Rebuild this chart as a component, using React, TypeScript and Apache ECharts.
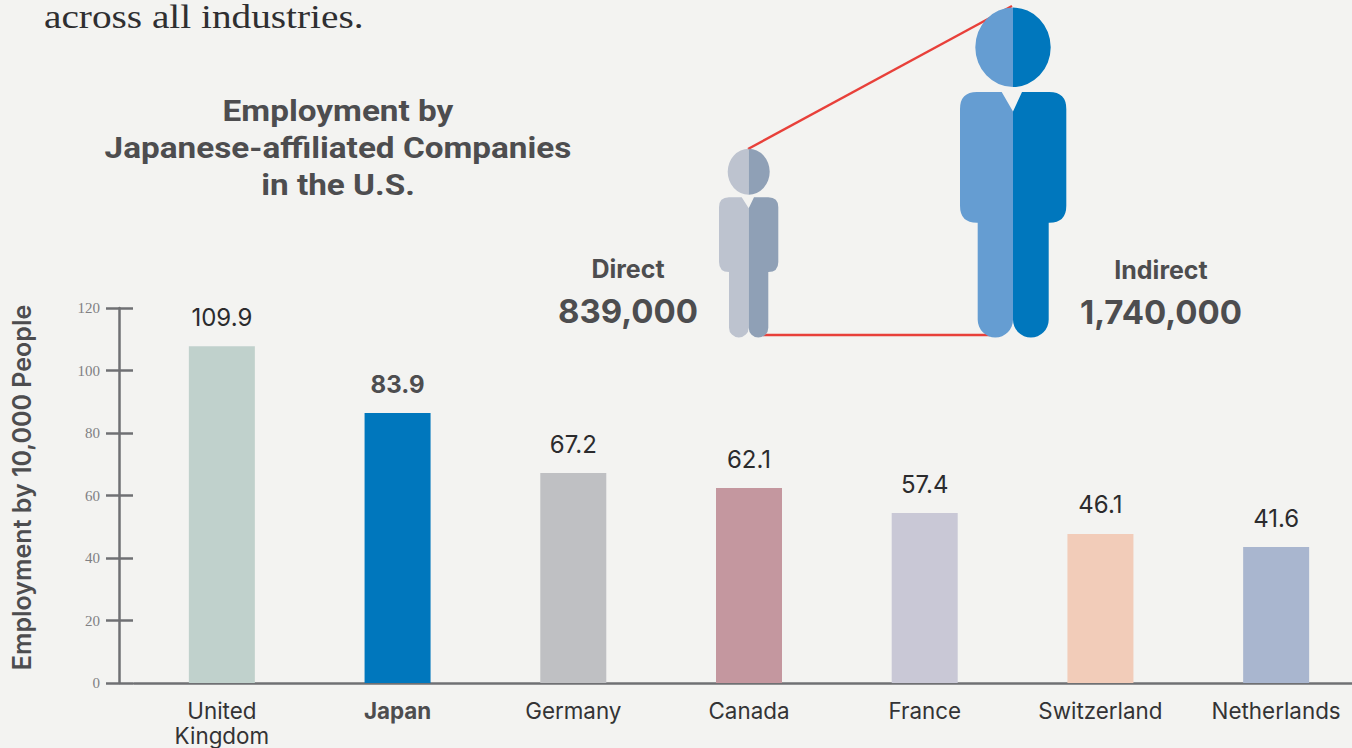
import React, { useEffect, useRef } from "react";
import * as echarts from "echarts";

const countries = ["United\nKingdom", "Japan", "Germany", "Canada", "France", "Switzerland", "Netherlands"];
const barHeights = [107.8, 86.4, 67.2, 62.4, 54.4, 47.7, 43.5];
const printedValues = ["109.9", "83.9", "67.2", "62.1", "57.4", "46.1", "41.6"];
const barColors = ["#c0d1cc", "#0077bd", "#bfc0c3", "#c4979f", "#c9c8d6", "#f2ccb9", "#a9b6cf"];
const titleLines = ["Employment by", "Japanese-affiliated Companies", "in the U.S."];

const INK = "#4d4d4f";
const AXIS = "#6f7073";
const SANS = "Inter, Roboto, sans-serif";
const TITLE_FONT = "Roboto, Inter, sans-serif";

type P = { cx: number; hy: number; rx: number; ry: number; top: number; l: number; r: number; sb: number; cr: number; ll: number; lr: number; bot: number; vl: number; vy: number; vr: number };

const big: P = { cx: 1013, hy: 47.3, rx: 37.7, ry: 39.7, top: 92, l: 960, r: 1066.3, sb: 222.7, cr: 17, ll: 977.7, lr: 1048.7, bot: 337.5, vl: 1001.7, vy: 111.5, vr: 1022 };
const small: P = { cx: 748.7, hy: 171.7, rx: 21, ry: 23, top: 197.3, l: 719, r: 778.3, sb: 272, cr: 10, ll: 729, lr: 768.3, bot: 337.5, vl: 741.7, vy: 208.3, vr: 754 };

function leftHalf(p: P) {
  const lr = (p.cx - p.ll) / 2;
  return `M${p.cx} ${p.hy - p.ry}A${p.rx} ${p.ry} 0 0 0 ${p.cx} ${p.hy + p.ry}Z` +
    `M${p.vl} ${p.top}L${p.l + p.cr} ${p.top}Q${p.l} ${p.top} ${p.l} ${p.top + p.cr}L${p.l} ${p.sb - p.cr}Q${p.l} ${p.sb} ${p.l + p.cr} ${p.sb}L${p.ll} ${p.sb}L${p.ll} ${p.bot - lr}A${lr} ${lr} 0 0 0 ${p.cx} ${p.bot - lr}L${p.cx} ${p.vy}L${p.vl} ${p.top}Z`;
}
function rightHalf(p: P) {
  const lr = (p.lr - p.cx) / 2;
  return `M${p.cx} ${p.hy - p.ry}A${p.rx} ${p.ry} 0 0 1 ${p.cx} ${p.hy + p.ry}Z` +
    `M${p.vr} ${p.top}L${p.r - p.cr} ${p.top}Q${p.r} ${p.top} ${p.r} ${p.top + p.cr}L${p.r} ${p.sb - p.cr}Q${p.r} ${p.sb} ${p.r - p.cr} ${p.sb}L${p.lr} ${p.sb}L${p.lr} ${p.bot - lr}A${lr} ${lr} 0 0 1 ${p.cx} ${p.bot - lr}L${p.cx} ${p.vy}L${p.vr} ${p.top}Z`;
}

echarts.graphic.registerShape("bigLeft", echarts.graphic.extendPath(leftHalf(big) as any, {}));
echarts.graphic.registerShape("bigRight", echarts.graphic.extendPath(rightHalf(big) as any, {}));
echarts.graphic.registerShape("smallLeft", echarts.graphic.extendPath(leftHalf(small) as any, {}));
echarts.graphic.registerShape("smallRight", echarts.graphic.extendPath(rightHalf(small) as any, {}));

function txt(text: string, x: number, y: number, size: number, scaleX = 1, align = "center", weight: any = 700, font = SANS, fill = INK) {
  return { type: "text", x, y, scaleX, silent: true, style: { text, fontSize: size, fontWeight: weight, fontFamily: font, fill, textAlign: align, textVerticalAlign: "middle" } };
}

export default function App() {
  const ref = useRef<HTMLDivElement>(null);
  useEffect(() => {
    document.body.style.margin = "0";
    const chart = echarts.init(ref.current!, undefined, { renderer: "svg" });
    chart.setOption({
      animation: false,
      backgroundColor: "#f3f3f1",
      grid: { left: 134, top: 308, width: 1230, height: 375, outerBoundsMode: "none" },
      xAxis: {
        type: "category",
        data: countries.map((c) => ({ value: c, textStyle: c === "Japan" ? { fontWeight: 700, color: INK } : {} })),
        axisLine: { show: true, onZero: false, lineStyle: { color: AXIS, width: 2.5 } },
        axisTick: { show: false },
        axisLabel: { interval: 0, fontFamily: SANS, fontSize: 22.4, lineHeight: 25, color: "#333335", margin: 15 },
      },
      yAxis: [
        {
          type: "value", position: "left", min: 0, max: 120, interval: 20, offset: 15,
          name: "Employment by 10,000 People", nameLocation: "middle", nameGap: 85,
          nameTextStyle: { fontFamily: SANS, fontSize: 25, fontWeight: 600, color: INK, padding: [0, 0, 0, 16] },
          splitLine: { show: false },
          axisLine: { show: true, lineStyle: { color: AXIS, width: 2.5 } },
          axisTick: { show: true, length: 13, lineStyle: { color: AXIS, width: 2.5 } },
          axisLabel: { fontFamily: "'Liberation Serif', serif", fontSize: 15, color: "#808083", margin: 19 },
        },
        {
          type: "value", position: "left", min: 0, max: 120, interval: 20, offset: 15,
          splitLine: { show: false },
          axisLine: { show: false },
          axisTick: { show: true, inside: true, length: 14, lineStyle: { color: AXIS, width: 2.5 } },
          axisLabel: { show: false },
        },
      ],
      series: [{
        type: "bar",
        barWidth: 66,
        data: barHeights.map((v, i) => ({
          value: v,
          itemStyle: { color: barColors[i] },
          label: countries[i] === "Japan" ? { fontWeight: 700, color: INK } : {},
        })),
        label: {
          show: true, position: "top", distance: 17,
          formatter: (p: any) => printedValues[p.dataIndex],
          fontFamily: SANS, fontSize: 24, color: "#2b2b2d",
        },
      }],
      graphic: [
        txt("across all industries.", 44, 17, 33, 1.19, "left", 400, "'Liberation Serif', serif", "#2f2f31"),
        ...titleLines.map((t, i) => txt(t, 338, 111 + i * 37, 30, 1.11, "center", 700, TITLE_FONT)),
        { type: "line", silent: true, shape: { x1: 748, y1: 149, x2: 1012, y2: 6 }, style: { stroke: "#e8403a", lineWidth: 2.4 } },
        { type: "line", silent: true, shape: { x1: 763, y1: 335, x2: 990, y2: 335 }, style: { stroke: "#e8403a", lineWidth: 2.4 } },
        { type: "smallLeft", style: { fill: "#bdc3cf" } },
        { type: "smallRight", style: { fill: "#8fa0b6" } },
        { type: "bigLeft", style: { fill: "#659dd2" } },
        { type: "bigRight", style: { fill: "#0077bd" } },
        txt("Direct", 628, 269, 25),
        txt("839,000", 628, 311, 33),
        txt("Indirect", 1161, 270, 25),
        txt("1,740,000", 1161, 312, 33),
      ],
    });
    return () => chart.dispose();
  }, []);
  return <div ref={ref} style={{ width: 1352, height: 748 }} />;
}
